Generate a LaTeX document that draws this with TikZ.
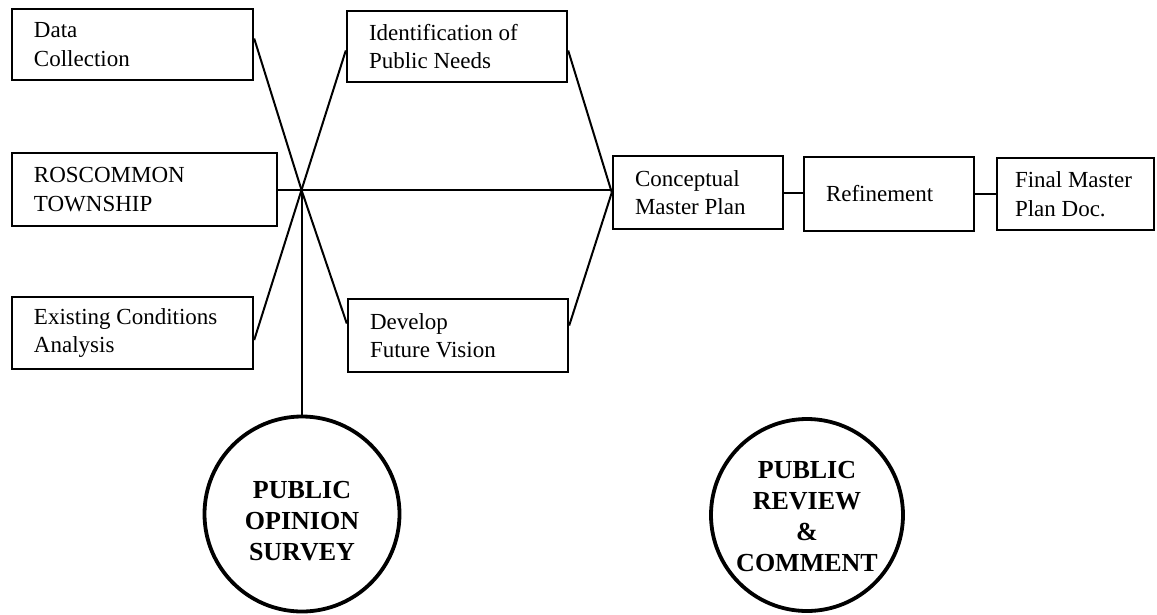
\documentclass[tikz,border=0pt]{standalone}
\usepackage{fontspec}
\setmainfont{Liberation Serif}
\usetikzlibrary{calc}
\begin{document}
\begin{tikzpicture}[x=1pt,y=-1pt,
  boxnode/.style={draw, line width=2.4pt, rectangle, inner xsep=22pt, inner ysep=0pt,
    align=flush left, font=\fontsize{23}{28.5}\selectfont, anchor=center},
  circnode/.style={draw, line width=3.8pt, circle, inner sep=0pt},
  circtext/.style={align=center, inner sep=0pt, font=\bfseries\fontsize{26}{31}\selectfont},
  link/.style={line width=2pt}]
\useasboundingbox (0,0) rectangle (1157,614);
% boxes
\node[boxnode, text width=197pt, minimum height=71pt] (data) at (132.5,44.5) {Data\\Collection};
\node[boxnode, text width=221pt, minimum height=73pt] (rosc) at (144.5,189.5) {ROSCOMMON\\TOWNSHIP};
\node[boxnode, text width=197pt, minimum height=72pt] (exist) at (132.5,333) {Existing Conditions\\Analysis};
\node[boxnode, text width=176pt, minimum height=71pt] (ident) at (457,46.5) {Identification of\\Public Needs};
\node[boxnode, text width=176pt, minimum height=73pt] (devel) at (458,335.5) {Develop\\Future Vision};
\node[boxnode, text width=126pt, minimum height=73pt] (concept) at (698,192.5) {Conceptual\\Master Plan};
\node[boxnode, text width=126pt, minimum height=74pt] (refine) at (889,194) {Refinement};
\node[boxnode, inner xsep=18pt, text width=121pt, minimum height=72pt] (final) at (1075.5,194) {Final Master\\Plan Doc.};
% circles
\node[circnode, minimum size=195pt] (survey) at (302,514) {};
\node[circtext] (surveytext) at (302,521) {PUBLIC\\OPINION\\SURVEY};
\node[circnode, minimum size=192pt] (review) at (807,515) {};
\node[circtext] (reviewtext) at (807,517) {PUBLIC\\REVIEW\\\&\\COMMENT};
% hub
\coordinate (hub) at (301.5,190);
% connectors
\draw[link] ([yshift=6pt]data.east) -- (hub);
\draw[link] ([yshift=-4pt]ident.west) -- (hub);
\draw[link] ([yshift=-7pt]exist.east) -- (hub);
\draw[link] ([yshift=12pt]devel.west) -- (hub);
\draw[link] (rosc.east |- hub) -- (concept.west |- hub);
\draw[link] (hub) -- (hub |- survey.north);
\draw[link] ([yshift=-4pt]ident.east) -- (concept.west);
\draw[link] ([yshift=10pt]devel.east) -- (concept.west);
\draw[link] (concept.east) -- (concept.east -| refine.west);
\draw[link] (refine.east) -- (final.west);
\end{tikzpicture}
\end{document}
